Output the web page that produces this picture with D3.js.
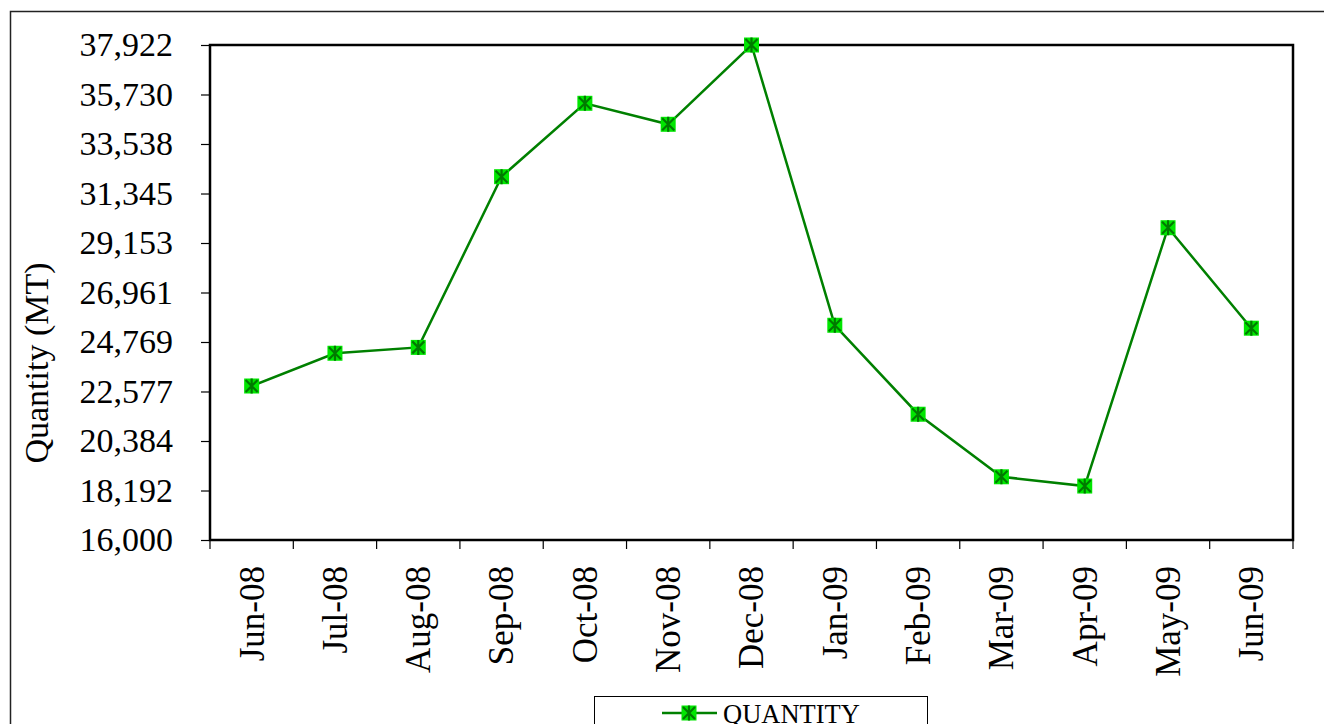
<!doctype html>
<html lang="en">
<head>
  <meta charset="UTF-8">
  <title>Quantity (MT)</title>
  <style>
    html, body { margin: 0; padding: 0; background: #fff; }
    #app { position: relative; width: 1324px; height: 724px; overflow: hidden; }
    text { font-family: "Liberation Serif", "Times New Roman", serif; fill: #000; }
  </style>
</head>
<body>
<div id="app"></div>
<script src="https://cdn.jsdelivr.net/npm/d3@7/dist/d3.min.js"></script>
<script>
  // data
  var months = ['Jun-08', 'Jul-08', 'Aug-08', 'Sep-08', 'Oct-08', 'Nov-08', 'Dec-08',
                'Jan-09', 'Feb-09', 'Mar-09', 'Apr-09', 'May-09', 'Jun-09'];
  var quantity = [22820, 24270, 24530, 32090, 35340, 34410, 37922,
                  25510, 21570, 18800, 18390, 29830, 25380];
  var yTicks = [16000, 18192, 20384, 22577, 24769, 26961, 29153, 31345, 33538, 35730, 37922];
  var seriesName = 'QUANTITY';

  var width = 1324;
  var height = 724;
  var plotLeft = 210, plotRight = 1293, plotTop = 45, plotBottom = 540;

  var svg = d3.select('#app')
              .append('svg')
              .attr('width', width)
              .attr('height', height);

  // outer chart border (runs off the right and bottom edges)
  svg.append('rect')
    .attr('x', 10.5)
    .attr('y', 11.5)
    .attr('width', width + 20)
    .attr('height', height + 20)
    .attr('fill', 'none')
    .attr('stroke', '#222')
    .attr('stroke-width', 1.5);

  var x = d3.scaleBand().domain(months).range([plotLeft, plotRight]).padding(0);
  var y = d3.scaleLinear().domain([16000, 37922]).range([plotBottom, plotTop]);
  var bw = x.bandwidth();

  // plot frame
  svg.append('rect')
    .attr('x', plotLeft)
    .attr('y', plotTop)
    .attr('width', plotRight - plotLeft)
    .attr('height', plotBottom - plotTop)
    .attr('fill', '#fff')
    .attr('stroke', '#000')
    .attr('stroke-width', 2.5);

  // y axis
  var yAxis = svg.append('g')
    .attr('transform', 'translate(' + plotLeft + ',0)')
    .call(d3.axisLeft(y)
      .tickValues(yTicks)
      .tickSize(9)
      .tickPadding(28)
      .tickFormat(d3.format(',')));
  yAxis.select('.domain').remove();
  yAxis.selectAll('.tick line').attr('stroke', '#000').attr('stroke-width', 1.2);
  yAxis.selectAll('.tick text')
    .attr('font-family', '"Liberation Serif", serif')
    .attr('font-size', 34)
    .attr('dy', '0.32em');

  // x ticks at category boundaries
  var xTickPos = months.map(function(m) { return x(m); }).concat([plotRight]);
  svg.selectAll('line.xtick')
    .data(xTickPos)
    .enter()
    .append('line')
    .attr('class', 'xtick')
    .attr('x1', d => d)
    .attr('x2', d => d)
    .attr('y1', plotBottom)
    .attr('y2', plotBottom + 9)
    .attr('stroke', '#000')
    .attr('stroke-width', 1.2);

  svg.selectAll('text.xlabel')
    .data(months)
    .enter()
    .append('text')
    .attr('class', 'xlabel')
    .attr('transform', d => 'translate(' + (x(d) + bw / 2) + ',' + 566 + ') rotate(-90)')
    .attr('text-anchor', 'end')
    .attr('dy', '0.34em')
    .attr('font-size', 35)
    .text(d => d);

  // axis title
  svg.append('text')
    .attr('transform', 'translate(48,363) rotate(-90)')
    .attr('text-anchor', 'middle')
    .attr('font-size', 34)
    .text('Quantity (MT)');

  // line
  var line = d3.line()
    .x((d, i) => x(months[i]) + bw / 2)
    .y(d => y(d));

  svg.append('path')
    .datum(quantity)
    .attr('d', line)
    .attr('fill', 'none')
    .attr('stroke', '#008000')
    .attr('stroke-width', 2.5);

  function drawMarker(g, cx, cy) {
    var s = 7.5;
    g.append('rect')
      .attr('x', cx - s)
      .attr('y', cy - s)
      .attr('width', 2 * s)
      .attr('height', 2 * s)
      .attr('fill', '#00e600');
    var a = 6;
    g.append('path')
      .attr('d', 'M' + (cx - a) + ',' + (cy - a) + 'L' + (cx + a) + ',' + (cy + a) +
                 'M' + (cx + a) + ',' + (cy - a) + 'L' + (cx - a) + ',' + (cy + a) +
                 'M' + cx + ',' + (cy - s) + 'L' + cx + ',' + (cy + s))
      .attr('stroke', '#007a00')
      .attr('stroke-width', 2.2)
      .attr('fill', 'none');
  }

  var markers = svg.append('g');
  quantity.forEach(function(d, i) {
    drawMarker(markers, x(months[i]) + bw / 2, y(d));
  });

  // legend
  var legend = svg.append('g');
  legend.append('rect')
    .attr('x', 594.5)
    .attr('y', 696.5)
    .attr('width', 333)
    .attr('height', 60)
    .attr('fill', '#fff')
    .attr('stroke', '#000')
    .attr('stroke-width', 1);
  legend.append('line')
    .attr('x1', 662)
    .attr('x2', 717)
    .attr('y1', 713)
    .attr('y2', 713)
    .attr('stroke', '#008000')
    .attr('stroke-width', 2.5);
  drawMarker(legend, 689, 713);
  legend.append('text')
    .attr('x', 723)
    .attr('y', 722.5)
    .attr('font-size', 26.5)
    .text(seriesName);
</script>
</body>
</html>
